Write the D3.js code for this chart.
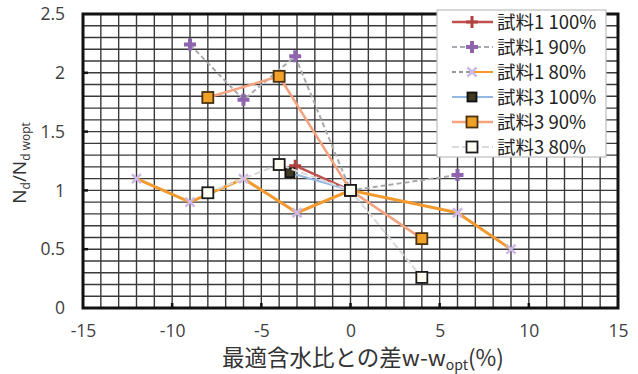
<!DOCTYPE html>
<html>
<head>
<meta charset="utf-8">
<script src="https://cdn.jsdelivr.net/npm/d3@7"></script>
<style>
  html, body { margin: 0; padding: 0; background: #fff; }
  svg { display: block; font-family: "Noto Sans CJK JP", "Noto Sans", sans-serif; }
</style>
</head>
<body>
<svg id="chart" width="638" height="374"></svg>
<script>
// Series data: x = difference from optimum water content (%), y = Nd / Nd,wopt
const s1_100_x = [-3.1, 0];
const s1_100_y = [1.21, 1.0];
const s1_90_x = [-9, -6, -3.1, 0, 6];
const s1_90_y = [2.24, 1.77, 2.14, 1.0, 1.13];
const s1_80_x = [-12, -9, -6, -3, 0, 6, 9];
const s1_80_y = [1.1, 0.9, 1.1, 0.81, 1.0, 0.81, 0.5];
const s3_100_x = [-3.4, 0];
const s3_100_y = [1.15, 1.0];
const s3_90_x = [-8, -4, 0, 4];
const s3_90_y = [1.79, 1.97, 1.0, 0.59];
const s3_80_x = [-8, -4, 0, 4];
const s3_80_y = [0.98, 1.22, 1.0, 0.26];

const seriesNames = ["試料1 100%", "試料1 90%", "試料1 80%", "試料3 100%", "試料3 90%", "試料3 80%"];
const xTicks = [-15, -10, -5, 0, 5, 10, 15];
const yTicks = [0, 0.5, 1, 1.5, 2, 2.5];

const series = [
  { name: seriesNames[0], xs: s1_100_x, ys: s1_100_y, line: "#C0504D", lw: 2.5, dash: null, marker: "plus", mc: "#B2403C", ms: 12, mw: 3 },
  { name: seriesNames[1], xs: s1_90_x, ys: s1_90_y, line: "#A9A9B0", lw: 2, dash: "5,3", marker: "plus", mc: "#8E64AE", ms: 12, mw: 4 },
  { name: seriesNames[2], xs: s1_80_x, ys: s1_80_y, line: "#F29A2E", lw: 3, dash: null, marker: "cross", mc: "#CDB8E6", ms: 9, mw: 2.5 },
  { name: seriesNames[3], xs: s3_100_x, ys: s3_100_y, line: "#95B8E3", lw: 2, dash: null, marker: "square", fill: "#3E3A22", mc: "#111", ms: 9 },
  { name: seriesNames[4], xs: s3_90_x, ys: s3_90_y, line: "#F5A27E", lw: 2.5, dash: null, marker: "square", fill: "#F2A128", mc: "#4A3212", ms: 11 },
  { name: seriesNames[5], xs: s3_80_x, ys: s3_80_y, line: "#DADADA", lw: 2, dash: "7,3", marker: "square", fill: "#FFFFF4", mc: "#1A1A1A", ms: 11 }
];

const svg = d3.select("#chart");
const margin = { left: 83, right: 20, top: 14, bottom: 66 };
const W = 638, H = 374;
const x = d3.scaleLinear().domain([-15, 15]).range([margin.left, W - margin.right]);
const y = d3.scaleLinear().domain([0, 2.5]).range([H - margin.bottom, margin.top]);

// grid
const grid = svg.append("g");
grid.selectAll("line.v").data(d3.range(-15, 16, 1)).join("line")
  .attr("x1", d => x(d)).attr("x2", d => x(d))
  .attr("y1", y(0)).attr("y2", y(2.5))
  .attr("stroke", "#3a3a3a").attr("stroke-width", 1.4);
grid.selectAll("line.h").data(d3.range(0, 26, 1).map(i => i / 10)).join("line")
  .attr("y1", d => y(d)).attr("y2", d => y(d))
  .attr("x1", x(-15)).attr("x2", x(15))
  .attr("stroke", "#3a3a3a").attr("stroke-width", 1.4);

// frame
svg.append("rect")
  .attr("x", x(-15)).attr("y", y(2.5))
  .attr("width", x(15) - x(-15)).attr("height", y(0) - y(2.5))
  .attr("fill", "none").attr("stroke", "#111").attr("stroke-width", 3);

// axes (labels only; frame drawn above)
const xAxis = svg.append("g").attr("transform", `translate(0,${y(0)})`)
  .call(d3.axisBottom(x).tickValues(xTicks).tickSize(0).tickPadding(17).tickFormat(d => String(d)));
const yAxis = svg.append("g").attr("transform", `translate(${x(-15)},0)`)
  .call(d3.axisLeft(y).tickValues(yTicks).tickSize(0).tickPadding(18).tickFormat(d => String(d)));
[xAxis, yAxis].forEach(a => {
  a.select(".domain").remove();
  a.selectAll("text").attr("font-size", 17.5).attr("fill", "#404040")
    .attr("font-family", "'Open Sans', 'Noto Sans', sans-serif");
});

// inward tick marks at major positions
svg.append("g").selectAll("line").data(xTicks.slice(1, -1)).join("line")
  .attr("x1", d => x(d)).attr("x2", d => x(d))
  .attr("y1", y(0)).attr("y2", y(0) - 5)
  .attr("stroke", "#111").attr("stroke-width", 2.5);
svg.append("g").selectAll("line").data(yTicks.slice(1, -1)).join("line")
  .attr("x1", x(-15)).attr("x2", x(-15) + 5)
  .attr("y1", d => y(d)).attr("y2", d => y(d))
  .attr("stroke", "#111").attr("stroke-width", 2.5);

// axis titles
const xt = svg.append("text")
  .attr("x", 363).attr("y", 366)
  .attr("text-anchor", "middle").attr("font-size", 22.5).attr("fill", "#333");
xt.append("tspan").text("最適含水比との差w-w");
xt.append("tspan").attr("font-size", 14).attr("dy", 4).text("opt");
xt.append("tspan").attr("dy", -4).text("(%)");

const yt = svg.append("text")
  .attr("transform", "translate(26,163) rotate(-90)")
  .attr("text-anchor", "middle").attr("font-size", 19).attr("fill", "#333")
  .attr("font-family", "'Open Sans', 'Noto Sans', sans-serif");
yt.append("tspan").text("N");
yt.append("tspan").attr("font-size", 12).attr("dy", 4).text("d");
yt.append("tspan").attr("dy", -4).text("/N");
yt.append("tspan").attr("font-size", 12).attr("dy", 4).text("d wopt");

// marker drawing helper
function drawMarker(g, s, cx, cy) {
  const h = s.ms / 2;
  if (s.marker === "plus") {
    g.append("path").attr("d", `M${cx - h},${cy}H${cx + h}M${cx},${cy - h}V${cy + h}`)
      .attr("stroke", s.mc).attr("stroke-width", s.mw).attr("fill", "none");
  } else if (s.marker === "cross") {
    g.append("path").attr("d", `M${cx - h},${cy - h}L${cx + h},${cy + h}M${cx - h},${cy + h}L${cx + h},${cy - h}`)
      .attr("stroke", s.mc).attr("stroke-width", s.mw).attr("fill", "none");
  } else {
    g.append("rect").attr("x", cx - h).attr("y", cy - h).attr("width", s.ms).attr("height", s.ms)
      .attr("fill", s.fill).attr("stroke", s.mc).attr("stroke-width", 1.8);
  }
}

// series lines and markers
const line = d3.line().x(d => x(d[0])).y(d => y(d[1]));
series.forEach(s => {
  const pts = s.xs.map((v, i) => [v, s.ys[i]]);
  const g = svg.append("g");
  g.append("path").attr("d", line(pts)).attr("fill", "none")
    .attr("stroke", s.line).attr("stroke-width", s.lw)
    .attr("stroke-dasharray", s.dash);
  pts.forEach(p => drawMarker(g, s, x(p[0]), y(p[1])));
});

// legend
const lg = svg.append("g");
lg.append("rect").attr("x", 437).attr("y", 10).attr("width", 169).attr("height", 147)
  .attr("fill", "#fff").attr("stroke", "#BDBDBD").attr("stroke-width", 1.2);
series.forEach((s, i) => {
  const cy = 22 + i * 25;
  if (i === 2) {
    lg.append("line").attr("x1", 452).attr("x2", 470).attr("y1", cy).attr("y2", cy)
      .attr("stroke", "#777").attr("stroke-width", 1.5).attr("stroke-dasharray", "4,3");
    lg.append("line").attr("x1", 474).attr("x2", 493).attr("y1", cy).attr("y2", cy)
      .attr("stroke", s.line).attr("stroke-width", 2);
  } else {
    lg.append("line").attr("x1", 452).attr("x2", 493).attr("y1", cy).attr("y2", cy)
      .attr("stroke", s.line).attr("stroke-width", s.lw)
      .attr("stroke-dasharray", s.dash);
  }
  drawMarker(lg, s, 472, cy);
  lg.append("text").attr("x", 497).attr("y", cy).attr("dy", "0.36em")
    .attr("font-size", 18.5).attr("fill", "#222").text(s.name);
});
</script>
</body>
</html>
